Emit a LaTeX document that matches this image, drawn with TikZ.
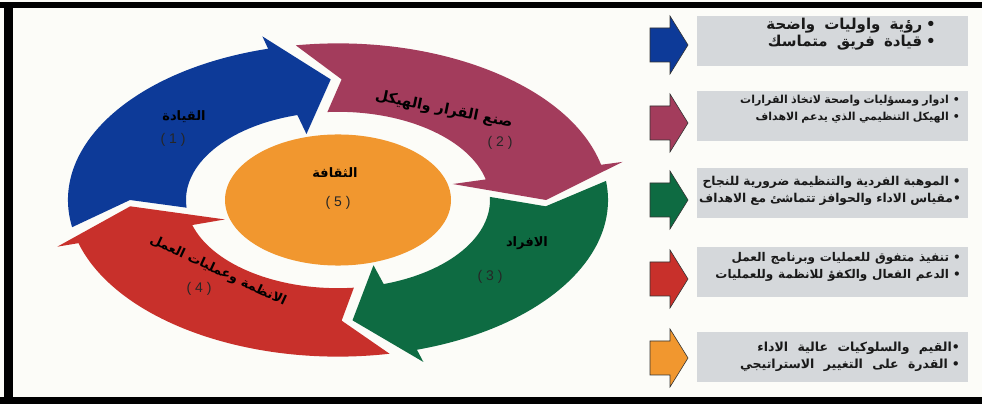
\documentclass[tikz,border=0pt]{standalone}
\usepackage{fontspec}
\setmainfont{Liberation Sans}
\newfontfamily\arabicfont[Script=Arabic]{DejaVu Sans}
\TeXXeTstate=1

\definecolor{qblue}{HTML}{0D3A98}
\definecolor{qrose}{HTML}{A33C5C}
\definecolor{qgreen}{HTML}{0E6B42}
\definecolor{qred}{HTML}{C8302B}
\definecolor{qorange}{HTML}{F1972F}
\definecolor{qgray}{HTML}{D5D8DB}
\definecolor{qpaper}{HTML}{FCFCF8}

\def\ringout{270}
\def\ringin{152}
% 环形箭头: #1 颜色, #2 尾部角度, #3 箭头角度
\newcommand\ringarrow[3]{%
  \fill[#1] (#2+7:\ringout) arc[start angle=#2+7, end angle=#3+13, radius=\ringout]
    -- (#3+13:292) -- (#3:208) -- (#3+13.5:118) -- (#3+13.5:\ringin)
    arc[start angle=#3+13.5, end angle=#2+2, radius=\ringin]
    -- (#2-3:208) -- cycle;}
% 文本框字体: #1 字号, #2 词间距
\newcommand\boxfont[2]{\arabicfont\bfseries\fontsize{#1}{17}\selectfont\spaceskip=#2\relax}
% 项目符号
\newcommand\bul{•\hskip 4pt\relax}

\begin{document}
\begin{tikzpicture}[
    x=1pt, y=1pt,
    ring label/.style={font={\arabicfont\bfseries\fontsize{13}{15}\selectfont}, text=black, inner sep=0pt},
    ring number/.style={font={\fontsize{14}{16}\selectfont}, text=black!85, inner sep=0pt},
    box text/.style={align=right, anchor=east, inner sep=0pt, text=black!90},
    side arrow/.style={draw=black!80, line width=0.6pt}]
  % 背景与边框
  \fill[qpaper] (0,0) rectangle (982,404);
  \useasboundingbox (0,0) rectangle (982,404);
  \fill[black] (0,396) rectangle (982,402);
  \fill[black] (0,0) rectangle (982,7);
  \fill[black] (4,0) rectangle (13,402);
  % 四个环形箭头与中心椭圆
  \begin{scope}[shift={(338,204)}, yscale=0.58]
    \ringarrow{qblue}{183}{92}
    \ringarrow{qrose}{92}{0}
    \ringarrow{qgreen}{0}{-86}
    \ringarrow{qred}{-86}{-177}
    \fill[qorange] (0,0) circle[radius=113];
  \end{scope}
  % 环上的标签
  \node[ring label] (lead) at (184,287) {\beginR القيادة\endR};
  \node[ring number] (n1) at (173,264) {( 1 )};
  \node[ring label, rotate=-11.5, font={\arabicfont\bfseries\fontsize{14.5}{16}\selectfont}] (decide) at (444,294) {\beginR صنع القرار والهيكل\endR};
  \node[ring number] (n2) at (500,261) {( 2 )};
  \node[ring label] (people) at (527,161) {\beginR الافراد\endR};
  \node[ring number] (n3) at (490,127) {( 3 )};
  \node[ring label, rotate=-25] (systems) at (218,133) {\beginR الانظمة وعمليات العمل\endR};
  \node[ring number] (n4) at (199,115) {( 4 )};
  \node[ring label] (culture) at (335,231) {\beginR الثقافة\endR};
  \node[ring number] (n5) at (338,201) {( 5 )};
  % 右侧箭头
  \foreach \c/\yc in {qblue/359, qrose/281, qgreen/204, qred/125, qorange/46}{
    \filldraw[side arrow, fill=\c] (650,\yc-17) -- (670,\yc-17) -- (670,\yc-29)
      -- (688,\yc) -- (670,\yc+29) -- (670,\yc+17) -- (650,\yc+17) -- cycle;
  }
  % 右侧文本框
  \foreach \yb in {363,288,211,132,47}
    \fill[qgray] (697,\yb-25) rectangle (968,\yb+25);
  % 文本
  \node[box text, font={\boxfont{15}{0.6em}}] (vision) at (936,370)
    {\beginR\bul رؤية واوليات واضحة\endR\\\beginR\bul قيادة فريق متماسك\endR};
  \node[box text, font={\boxfont{11}{0.3em}}] (roles) at (960,295)
    {\beginR\bul ادوار ومسؤليات واصحة لاتخاذ القرارات\endR\\\beginR\bul الهيكل التنظيمي الذي يدعم الاهداف\endR};
  \node[box text, font={\boxfont{12.2}{0.33em}}] (talent) at (961,213)
    {\beginR\bul الموهبة الفردية والتنظيمة ضرورية للنجاح\endR\\\beginR •مقياس الاداء والحوافز تتماشئ مع الاهداف\endR};
  \node[box text, font={\boxfont{12}{0.4em}}] (process) at (961,137)
    {\beginR\bul تنفيذ متفوق للعمليات وبرنامج العمل\endR\\\beginR\bul الدعم الفعال والكفؤ للانظمة وللعمليات\endR};
  \node[box text, font={\boxfont{12.5}{0.75em}}] (values) at (960,47)
    {\beginR •القيم والسلوكيات عالية الاداء\endR\\\beginR\bul القدرة على التغيير الاستراتيجي\endR};
\end{tikzpicture}
\end{document}
